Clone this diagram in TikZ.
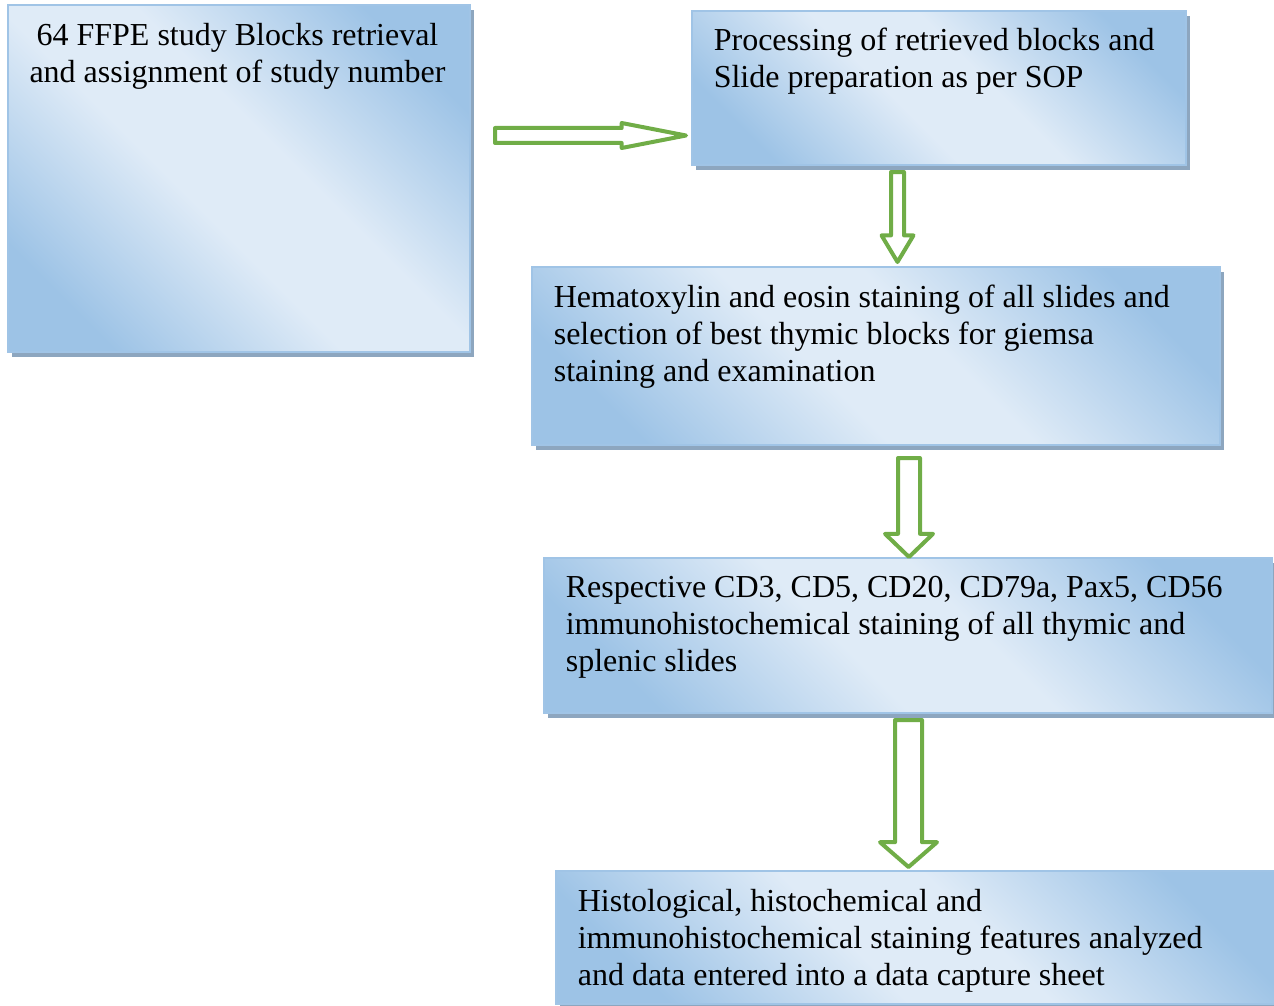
\documentclass[tikz,border=0pt]{standalone}
\usepackage{fontspec}
\setmainfont{Liberation Serif}
\usetikzlibrary{shapes.arrows,shadows}
\definecolor{bxdark}{RGB}{157,195,230}
\definecolor{bxlight}{RGB}{223,235,247}
\definecolor{bxline}{RGB}{160,196,230}
\definecolor{bxshadow}{RGB}{141,166,191}
\definecolor{arrgreen}{RGB}{112,173,71}
\pgfdeclareverticalshading{boxfade}{100bp}{color(0bp)=(bxdark); color(24bp)=(bxdark); color(44bp)=(bxlight); color(56bp)=(bxlight); color(76bp)=(bxdark); color(100bp)=(bxdark)}
\begin{document}
\begin{tikzpicture}[x=0.5pt, y=-0.5pt, semithick,
  stepbox/.style = {rectangle, draw=bxline, line width=0.8pt, shading=boxfade, shading angle=-45, drop shadow={shadow xshift=2pt, shadow yshift=-2.5pt, fill=bxshadow, opacity=1}},
  txt/.style = {inner sep=0pt, align=left, anchor=north west, font=\fontsize{16}{18.5}\selectfont},
  blockarrow/.style = {single arrow, draw=arrgreen, fill=white, line width=2pt, line join=round, anchor=tail}]
    \useasboundingbox (0,0) rectangle (1274,1006);

    \node[stepbox, minimum width=231pt, minimum height=173.5pt] (b1) at (239,178.5) {};
    \node[stepbox, minimum width=247pt, minimum height=77pt] (b2) at (939,88) {};
    \node[stepbox, minimum width=344pt, minimum height=89pt] (b3) at (876,356) {};
    \node[stepbox, minimum width=364pt, minimum height=77.5pt] (b4) at (908,635.5) {};
    \node[stepbox, minimum width=360pt, minimum height=66.5pt] (b5) at (916,937.5) {};

    \node[txt, anchor=north, align=center] (t1) at ([xshift=-0.75pt, yshift=-9pt]b1.north) {64 FFPE study Blocks retrieval\\and assignment of study number};
    \node[txt] (t2) at ([xshift=11pt, yshift=-8.5pt]b2.north west) {Processing of retrieved blocks and\\Slide preparation as per SOP};
    \node[txt] (t3) at ([xshift=11pt, yshift=-9pt]b3.north west) {Hematoxylin and eosin staining of all slides and\\selection of best thymic blocks for giemsa\\staining and examination};
    \node[txt] (t4) at ([xshift=11pt, yshift=-9pt]b4.north west) {Respective CD3, CD5, CD20, CD79a, Pax5, CD56\\immunohistochemical staining of all thymic and\\splenic slides};
    \node[txt] (t5) at ([xshift=11pt, yshift=-9pt]b5.north west) {Histological, histochemical and\\immunohistochemical staining features analyzed\\and data entered into a data capture sheet};

    \node[blockarrow, inner sep=2.75pt, minimum height=95.5pt, minimum width=10.5pt, single arrow head extend=2.5pt, single arrow tip angle=22] (a1) at (493,135.5) {};
    \node[blockarrow, shape border rotate=270, inner sep=2.25pt, minimum height=45pt, minimum width=14pt, single arrow head extend=4.75pt, single arrow tip angle=62] (a2) at (897.5,170) {};
    \node[blockarrow, shape border rotate=270, inner sep=4.5pt, minimum height=49.5pt, minimum width=22pt, single arrow head extend=6.5pt, single arrow tip angle=92] (a3) at (909,456) {};
    \node[blockarrow, shape border rotate=270, inner sep=5.75pt, minimum height=73.5pt, minimum width=26.5pt, single arrow head extend=7.5pt, single arrow tip angle=98] (a4) at (908.5,718) {};
\end{tikzpicture}
\end{document}
